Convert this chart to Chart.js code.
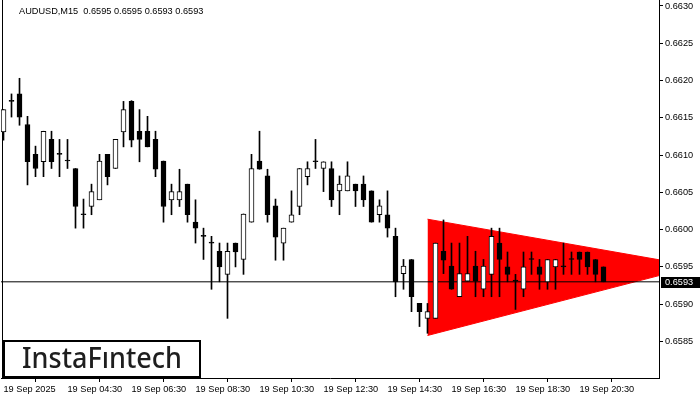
<!DOCTYPE html>
<html>
<head>
<meta charset="utf-8">
<title>AUDUSD M15</title>
<script src="https://cdn.jsdelivr.net/npm/chart.js@4.4.0/dist/chart.umd.min.js"></script>
<style>
    html, body { margin: 0; padding: 0; background: #fff; }
</style>
</head>
<body>
<canvas id="chart" width="700" height="400"></canvas>
<script>
/* AUDUSD M15 candles with a bearish symmetrical triangle */

const symbol = 'AUDUSD';
const timeframe = 'M15';

const opens = [
    0.66131, 0.66172, 0.66182, 0.66141, 0.66101, 0.66091, 0.66121, 0.66101, 0.66092, 0.66082,
    0.66020, 0.66031, 0.66040, 0.66101, 0.66082, 0.66131, 0.66172, 0.66132, 0.66132, 0.66121,
    0.66092, 0.66040, 0.66040, 0.66061, 0.66010, 0.65991, 0.65982, 0.65971, 0.65940, 0.65982,
    0.65960, 0.66010, 0.66092, 0.66072, 0.66032, 0.65982, 0.66010, 0.66031, 0.66071, 0.66091,
    0.66082, 0.66082, 0.66052, 0.66052, 0.66061, 0.66061, 0.66052, 0.66020, 0.66020, 0.65991,
    0.65941, 0.65960, 0.65901, 0.65881, 0.65881, 0.65971, 0.65951, 0.65910, 0.65931, 0.65951,
    0.65920, 0.65940, 0.65982, 0.65950, 0.65931, 0.65920, 0.65960, 0.65950, 0.65930, 0.65950,
    0.65950, 0.65960, 0.65970, 0.65970, 0.65960, 0.65950
];
const highs = [
    0.66161, 0.66182, 0.66203, 0.66152, 0.66112, 0.66132, 0.66132, 0.66121, 0.66121, 0.66082,
    0.66041, 0.66061, 0.66101, 0.66101, 0.66121, 0.66172, 0.66173, 0.66161, 0.66152, 0.66132,
    0.66092, 0.66061, 0.66081, 0.66061, 0.66040, 0.66002, 0.65991, 0.65982, 0.65982, 0.65982,
    0.66021, 0.66101, 0.66132, 0.66081, 0.66041, 0.66002, 0.66052, 0.66082, 0.66091, 0.66121,
    0.66091, 0.66091, 0.66072, 0.66091, 0.66061, 0.66072, 0.66052, 0.66040, 0.66052, 0.66002,
    0.65960, 0.65960, 0.65901, 0.65901, 0.65982, 0.66013, 0.65982, 0.65982, 0.65991, 0.65971,
    0.65960, 0.66002, 0.66002, 0.65970, 0.65940, 0.65970, 0.65970, 0.65960, 0.65960, 0.65960,
    0.65982, 0.65970, 0.65970, 0.65970, 0.65960, 0.65950
];
const lows = [
    0.66120, 0.66151, 0.66140, 0.66060, 0.66071, 0.66071, 0.66082, 0.66071, 0.66082, 0.66002,
    0.66002, 0.66020, 0.66040, 0.66060, 0.66082, 0.66111, 0.66111, 0.66091, 0.66111, 0.66071,
    0.66010, 0.66020, 0.66031, 0.66010, 0.65982, 0.65960, 0.65920, 0.65930, 0.65881, 0.65950,
    0.65940, 0.66010, 0.66081, 0.66010, 0.65959, 0.65959, 0.66010, 0.66020, 0.66060, 0.66082,
    0.66051, 0.66031, 0.66020, 0.66052, 0.66031, 0.66031, 0.66010, 0.66010, 0.65990, 0.65910,
    0.65920, 0.65890, 0.65870, 0.65861, 0.65881, 0.65941, 0.65920, 0.65910, 0.65931, 0.65910,
    0.65910, 0.65910, 0.65910, 0.65930, 0.65893, 0.65910, 0.65940, 0.65920, 0.65920, 0.65920,
    0.65940, 0.65940, 0.65940, 0.65940, 0.65930, 0.65930
];
const closes = [
    0.66161, 0.66172, 0.66151, 0.66091, 0.66082, 0.66132, 0.66091, 0.66101, 0.66092, 0.66031,
    0.66020, 0.66051, 0.66092, 0.66071, 0.66121, 0.66161, 0.66120, 0.66121, 0.66111, 0.66081,
    0.66031, 0.66051, 0.66051, 0.66020, 0.66002, 0.65991, 0.65982, 0.65950, 0.65971, 0.65970,
    0.66021, 0.66082, 0.66081, 0.66020, 0.65990, 0.66002, 0.66020, 0.66082, 0.66082, 0.66091,
    0.66091, 0.66040, 0.66061, 0.66072, 0.66052, 0.66040, 0.66010, 0.66032, 0.66002, 0.65930,
    0.65951, 0.65910, 0.65890, 0.65890, 0.65982, 0.65959, 0.65920, 0.65941, 0.65941, 0.65931,
    0.65951, 0.65991, 0.65960, 0.65940, 0.65931, 0.65950, 0.65960, 0.65940, 0.65960, 0.65960,
    0.65950, 0.65960, 0.65960, 0.65950, 0.65940, 0.65930
];

const tickBars = [0, 8, 16, 24, 32, 40, 48, 56, 64, 72];
const tickLabels = [
    '19 Sep 2025', '19 Sep 04:30', '19 Sep 06:30', '19 Sep 08:30', '19 Sep 10:30',
    '19 Sep 12:30', '19 Sep 14:30', '19 Sep 16:30', '19 Sep 18:30', '19 Sep 20:30'
];
const priceTicks = [0.6585, 0.6590, 0.6595, 0.6600, 0.6605, 0.6610, 0.6615, 0.6620, 0.6625, 0.6630];

/* triangle edges as [bar, price] */
const triangleTop = [[53, 0.66014], [86.5, 0.65951]];
const triangleBottom = [[53, 0.65858], [86.5, 0.65951]];

const logoText = 'InstaF\u0131ntech';
const axisFont = { family: "'Liberation Sans', Arial, sans-serif", size: 9.2 };

const last = closes.length - 1;
const lastClose = closes[last];

Chart.defaults.font.family = axisFont.family;

function noPadding(scale) {
    scale.paddingTop = 0;
    scale.paddingBottom = 0;
    scale.paddingLeft = 0;
    scale.paddingRight = 0;
}

const overlayPlugin = {
    id: 'overlay',
    beforeDatasetsDraw(chart) {
        const { ctx, chartArea } = chart;
        ctx.save();
        ctx.strokeStyle = '#000';
        ctx.lineWidth = 1;
        ctx.beginPath();
        ctx.moveTo(chartArea.left + 1.5, chartArea.top);
        ctx.lineTo(chartArea.left + 1.5, chartArea.bottom);
        ctx.stroke();
        ctx.restore();
    },
    afterDraw(chart) {
        const { ctx, chartArea } = chart;
        const yScale = chart.scales.y;
        ctx.save();

        /* header with last bar OHLC */
        ctx.fillStyle = '#000';
        ctx.font = axisFont.size + 'px ' + axisFont.family;
        ctx.textBaseline = 'middle';
        ctx.textAlign = 'left';
        const header = symbol + ',' + timeframe + '  ' +
            [opens[last], highs[last], lows[last], closes[last]].map(v => v.toFixed(4)).join(' ');
        ctx.fillText(header, 19, 11);

        /* current price tag */
        const py = Math.round(yScale.getPixelForValue(lastClose));
        ctx.fillStyle = '#000';
        ctx.fillRect(chartArea.right + 2, py - 5, chart.width - chartArea.right - 2, 11);
        ctx.fillStyle = '#fff';
        ctx.fillText(lastClose.toFixed(4), chartArea.right + 6, py + 0.5);

        /* watermark logo */
        ctx.fillStyle = '#fff';
        ctx.fillRect(3, 340, 198, 38);
        ctx.strokeStyle = '#000';
        ctx.lineWidth = 2;
        ctx.strokeRect(4, 341, 196, 36);
        ctx.fillStyle = '#1e1e1e';
        ctx.font = "500 28px 'Noto Sans', sans-serif";
        ctx.textAlign = 'center';
        ctx.fillText(logoText, 102, 360, 160);

        ctx.restore();
    }
};

const bodyColors = opens.map((o, i) => closes[i] > o ? '#ffffff' : '#000000');

new Chart(document.getElementById('chart'), {
    type: 'bar',
    data: {
        datasets: [
            {
                label: 'body',
                data: opens.map((o, i) => ({ x: i, y: [o, closes[i]] })),
                backgroundColor: bodyColors,
                borderColor: '#000',
                borderWidth: 1,
                borderSkipped: false,
                barThickness: 5,
                minBarLength: 1,
                grouped: false
            },
            {
                label: 'wick',
                data: lows.map((l, i) => ({ x: i, y: [l, highs[i]] })),
                backgroundColor: '#000',
                borderWidth: 0,
                barThickness: 1,
                grouped: false
            },
            {
                type: 'line',
                label: 'bid',
                data: [{ x: -1, y: lastClose }, { x: 100, y: lastClose }],
                borderColor: '#000',
                borderWidth: 1,
                pointRadius: 0,
                fill: false,
                clip: 0
            },
            {
                type: 'line',
                label: 'triangle top',
                data: triangleTop.map(p => ({ x: p[0], y: p[1] })),
                borderColor: '#ff0000',
                borderWidth: 1,
                pointRadius: 0,
                fill: false,
                clip: 0
            },
            {
                type: 'line',
                label: 'triangle bottom',
                data: triangleBottom.map(p => ({ x: p[0], y: p[1] })),
                borderColor: '#ff0000',
                backgroundColor: '#ff0000',
                borderWidth: 1,
                pointRadius: 0,
                fill: '-1',
                clip: 0
            }
        ]
    },
    options: {
        responsive: false,
        animation: false,
        events: [],
        layout: { padding: { left: 1, top: 0, right: 0, bottom: 0 } },
        plugins: {
            legend: { display: false },
            tooltip: { enabled: false }
        },
        scales: {
            x: {
                type: 'linear',
                min: -0.3125,
                max: 81.9375,
                offset: false,
                afterBuildTicks: s => { s.ticks = tickBars.map(v => ({ value: v })); },
                afterFit: s => { s.height = 22; noPadding(s); },
                ticks: {
                    autoSkip: false,
                    maxRotation: 0,
                    align: 'start',
                    padding: 2,
                    color: '#000',
                    font: axisFont,
                    callback: (v, i) => tickLabels[i]
                },
                grid: { drawOnChartArea: false, drawTicks: true, tickLength: 4, color: '#000' },
                border: { display: true, color: '#000' }
            },
            y: {
                type: 'linear',
                position: 'right',
                min: 0.65801,
                max: 0.66308,
                afterBuildTicks: s => { s.ticks = priceTicks.map(v => ({ value: v })); },
                afterFit: s => { s.width = 41; noPadding(s); },
                ticks: {
                    padding: 2,
                    color: '#000',
                    font: axisFont,
                    callback: v => v.toFixed(4)
                },
                grid: { drawOnChartArea: false, drawTicks: true, tickLength: 4, color: '#000' },
                border: { display: true, color: '#000' }
            }
        }
    },
    plugins: [overlayPlugin]
});
</script>
</body>
</html>
